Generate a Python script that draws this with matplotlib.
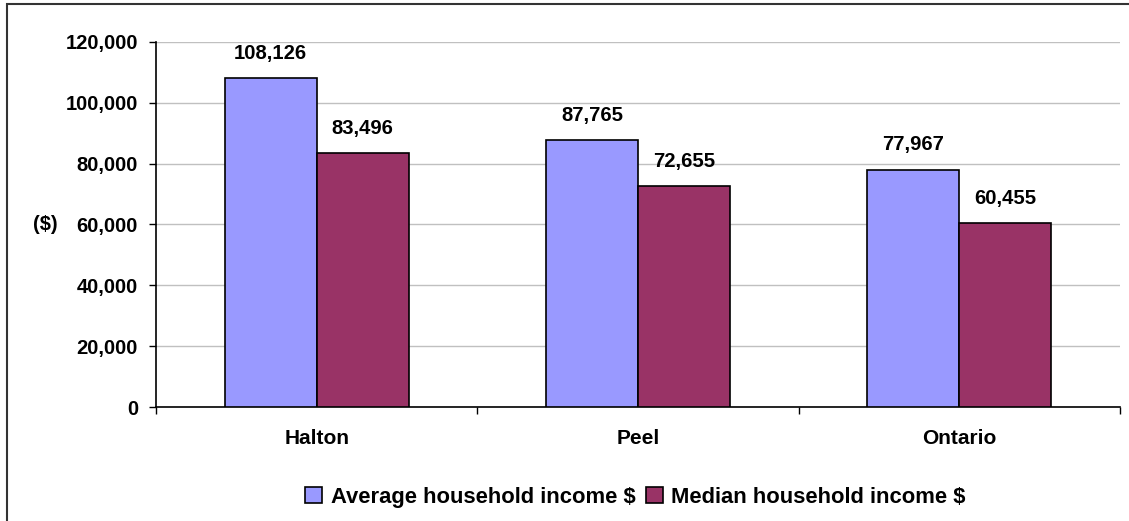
import matplotlib.pyplot as plt
from matplotlib.patches import Rectangle, Patch
from matplotlib.ticker import FuncFormatter
import numpy as np

plt.rcParams['font.family'] = ['Liberation Sans', 'DejaVu Sans']
plt.rcParams['font.weight'] = 'bold'

regions = ["Halton", "Peel", "Ontario"]
average_income = [108126, 87765, 77967]
median_income = [83496, 72655, 60455]
series_names = ["Average household income $", "Median household income $"]
colors = ["#9999FF", "#993366"]
y_ticks = [0, 20000, 40000, 60000, 80000, 100000, 120000]

fig = plt.figure(figsize=(11.29, 5.21), dpi=100)
ax = fig.add_axes([0.1382, 0.2188, 0.8538, 0.7006])

x = np.arange(len(regions))
w = 0.286
for i, (vals, col) in enumerate(zip([average_income, median_income], colors)):
    pos = x + (i - 0.5) * w
    ax.bar(pos, vals, width=w, color=col, edgecolor="black", linewidth=1.2, zorder=3)
    for p, v in zip(pos, vals):
        ax.annotate(f"{v:,}", (p, v), xytext=(0, 18), textcoords="offset points",
                    ha="center", va="center", fontsize=14.6, fontweight="bold")

ax.set_xlim(-0.5, 2.5)
ax.set_ylim(0, 120000)
ax.set_yticks(y_ticks)
ax.yaxis.set_major_formatter(FuncFormatter(lambda v, _: f"{int(v):,}"))
ax.set_xticks(x)
ax.set_xticklabels(regions)
ax.set_xticks([-0.5, 0.5, 1.5, 2.5], minor=True)
ax.tick_params(axis="x", which="major", length=0, pad=16, labelsize=15)
ax.tick_params(axis="x", which="minor", length=5, width=1, direction="out")
ax.tick_params(axis="y", length=5, width=1, pad=8, labelsize=14.5)

ax.yaxis.grid(True, color="#C0C0C0", linewidth=1, zorder=0)
ax.set_axisbelow(True)
for s in ["top", "right"]:
    ax.spines[s].set_visible(False)
ax.spines["left"].set_linewidth(1.2)
ax.spines["bottom"].set_linewidth(1.2)

fig.text(45 / 1129, 1 - 225 / 521, "($)", ha="center", va="center", fontsize=14.5, fontweight="bold")

handles = [Patch(facecolor=c, edgecolor="black", linewidth=1.2) for c in colors]
fig.legend(handles, series_names, loc="center", bbox_to_anchor=(0.563, 0.046), ncol=2,
           frameon=False, fontsize=15.8, handlelength=0.75, handleheight=0.75,
           handletextpad=0.4, columnspacing=0.5)

fig.patches.append(Rectangle((7 / 1129, -0.1), 1.1, 1.1 - 4 / 521, transform=fig.transFigure,
                             fill=False, edgecolor="#333333", linewidth=1.5))

fig.savefig("out.png", dpi=100)
